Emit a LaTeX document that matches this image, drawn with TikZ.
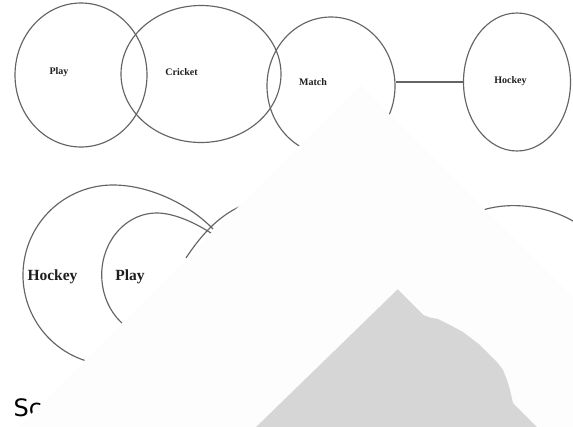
\documentclass[tikz,border=0pt]{standalone}
\usepackage{fontspec}
\setmainfont{Liberation Serif}
\newfontfamily\scfont{DejaVu Sans}
\usetikzlibrary{shapes.geometric}
\definecolor{linegray}{RGB}{100,100,100}
\definecolor{txtdark}{RGB}{30,30,30}
\definecolor{veil}{RGB}{253,253,253}
\definecolor{peak}{RGB}{214,214,214}
\tikzset{
  circ/.style={ellipse, draw=linegray, line width=1.15pt, inner sep=0pt},
  toplabel/.style={font=\fontsize{10}{12}\selectfont\bfseries, text=txtdark, inner sep=0pt},
  biglabel/.style={font=\fontsize{15.5}{18}\selectfont\bfseries, text=txtdark, inner sep=0pt},
  arcline/.style={draw=linegray, line width=1.15pt},
  link/.style={draw=linegray, line width=1.15pt}
}
\begin{document}
\begin{tikzpicture}[x=1pt,y=-1pt]
\useasboundingbox (0,0) rectangle (573,426);
\clip (0,0) rectangle (573,426);
\fill[white] (0,0) rectangle (573,426);
% top row of ellipses
\node[circ, minimum width=132pt, minimum height=144pt] (playE) at (81,75) {};
\node[circ, minimum width=160pt, minimum height=137pt] (cricketE) at (201,74) {};
\node[circ, minimum width=128pt, minimum height=138pt] (matchE) at (331,86) {};
\node[circ, minimum width=107pt, minimum height=138pt] (hockeyE) at (517,82) {};
\node[toplabel] (playT) at (59,72) {Play};
\node[toplabel] (cricketT) at (181.5,72) {Cricket};
\node[toplabel] (matchT) at (313,82) {Match};
\node[toplabel] (hockeyT) at (510.5,81) {Hockey};
\draw[link] (matchE.east |- hockeyE.west) -- (hockeyE.west);
% bottom arcs
\draw[arcline] (113,275) ++(105:90) arc[start angle=105, end angle=270, radius=90]
  .. controls (150,185) and (190,205) .. (213,229);
\draw[arcline] (156.7,275) ++(125:55 and 62) arc[start angle=125, end angle=270, x radius=55, y radius=62]
  .. controls (172,213) and (191,220.4) .. (211,233);
\draw[arcline] (186,258) .. controls (203,232) and (222,213) .. (246,204);
\draw[arcline] (480,211) .. controls (505,202) and (545,203) .. (578,224);
\node[biglabel] (hockeyB) at (52.5,277) {Hockey};
\node[biglabel] (playB) at (130,277) {Play};
\node[anchor=base west, inner sep=0pt, text=black, font=\scfont\fontsize{24}{28}\selectfont] (scT) at (13.5,416) {Sc};
% overlay shapes
\fill[veil] (360,85) -- (-30,475) -- (750,475) -- cycle;
\fill[peak] (253,430) -- (397.7,289.3) -- (423.3,315) -- (430,317.5) -- (438,319) -- (450,325) -- (463,332) -- (480,345) -- (497,362) -- (503,370) -- (507,380) -- (510,390) -- (513,403) -- (540,430) -- cycle;
\end{tikzpicture}
\end{document}
